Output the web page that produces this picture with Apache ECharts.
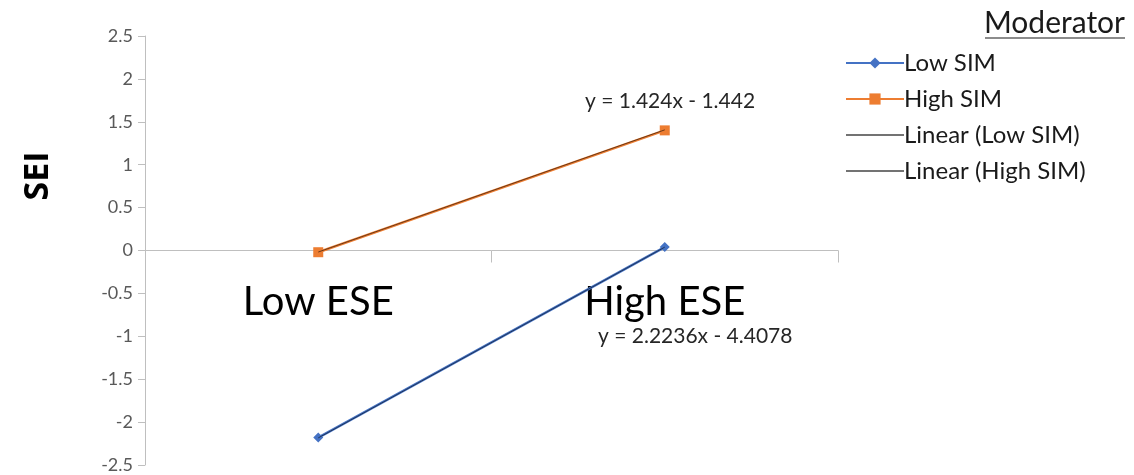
<!DOCTYPE html>
<html>
<head>
<meta charset="utf-8">
<script src="https://cdn.jsdelivr.net/npm/echarts@6/dist/echarts.min.js"></script>
<style>
  html, body { margin: 0; padding: 0; background: #ffffff; }
  #chart { width: 1134px; height: 475px; }
</style>
</head>
<body>
<div id="chart"></div>
<script>
// Categories on the x axis
const categories = ['Low ESE', 'High ESE'];
// Observed cell means for each moderator level
const lowSim = [-2.18, 0.04];
const highSim = [-0.02, 1.40];
// Fitted linear trend values at each category
const trendLowSim = [-2.184, 0.039];
const trendHighSim = [-0.018, 1.406];
// Trend equations shown next to the lines
const eqLowSim = 'y = 2.2236x - 4.4078';
const eqHighSim = 'y = 1.424x - 1.442';
// Y axis range
const yMin = -2.5, yMax = 2.5, yStep = 0.5;

const FONT = 'Lato, "Open Sans", sans-serif';
const GRID_TOP = 36, GRID_BOTTOM = 10, H = 475;
// the category axis sits on y = 0: shift it up from the bottom of the grid
const plotH = H - GRID_TOP - GRID_BOTTOM;
const zeroShift = -plotH * (0 - yMin) / (yMax - yMin);

const chart = echarts.init(document.getElementById('chart'));

chart.setOption({
  animation: false,
  backgroundColor: '#ffffff',
  grid: { left: 145, right: 296, top: GRID_TOP, bottom: GRID_BOTTOM, containLabel: false, outerBoundsMode: 'none' },
  legend: {
    orient: 'vertical',
    left: 840,
    top: 46,
    itemWidth: 58,
    itemHeight: 14,
    itemGap: 12,
    textStyle: { fontFamily: FONT, fontSize: 24, color: '#1a1a1a', padding: [0, 0, 0, -5] },
    data: ['Low SIM', 'High SIM', 'Linear (Low SIM)', 'Linear (High SIM)']
  },
  xAxis: {
    type: 'category',
    data: categories,
    boundaryGap: true,
    offset: zeroShift,
    axisLine: { onZero: false, lineStyle: { color: '#bfbfbf', width: 1 } },
    axisTick: { show: true, length: 12, alignWithLabel: false, lineStyle: { color: '#bfbfbf' } },
    axisLabel: { margin: 32, fontFamily: FONT, fontSize: 40, color: '#000000' },
    splitLine: { show: false }
  },
  yAxis: {
    type: 'value',
    min: yMin,
    max: yMax,
    interval: yStep,
    axisLine: { show: true, lineStyle: { color: '#bfbfbf', width: 1 } },
    axisTick: { show: true, length: 7, lineStyle: { color: '#bfbfbf' } },
    axisLabel: { margin: 12, fontFamily: FONT, fontSize: 18, color: '#595959' },
    splitLine: { show: false }
  },
  series: [
    {
      name: 'Low SIM',
      type: 'line',
      data: lowSim,
      symbol: 'diamond',
      symbolSize: 10,
      itemStyle: { color: '#4472C4' },
      lineStyle: { color: '#4472C4', width: 2.5 },
      z: 2
    },
    {
      name: 'High SIM',
      type: 'line',
      data: highSim,
      symbol: 'rect',
      symbolSize: 10,
      itemStyle: { color: '#ED7D31' },
      lineStyle: { color: '#ED7D31', width: 2.5 },
      z: 2
    },
    {
      name: 'Linear (Low SIM)',
      type: 'line',
      data: trendLowSim,
      symbol: 'none',
      itemStyle: { color: '#000000', opacity: 0 },
      lineStyle: { color: '#000000', width: 1, opacity: 0.55 },
      z: 3
    },
    {
      name: 'Linear (High SIM)',
      type: 'line',
      data: trendHighSim,
      symbol: 'none',
      itemStyle: { color: '#000000', opacity: 0 },
      lineStyle: { color: '#000000', width: 1, opacity: 0.55 },
      z: 3
    }
  ],
  graphic: [
    {
      type: 'text',
      x: 38, y: 176,
      rotation: Math.PI / 2,
      style: { text: 'SEI', fontFamily: '"Open Sans", sans-serif', fontSize: 34, fontWeight: 'bold', fill: '#000000', align: 'center', verticalAlign: 'middle' }
    },
    {
      type: 'text',
      x: 1125, y: 23,
      style: { text: 'Moderator', fontFamily: FONT, fontSize: 30, fill: '#1a1a1a', align: 'right', verticalAlign: 'middle' }
    },
    {
      type: 'line',
      shape: { x1: 985, y1: 38, x2: 1125, y2: 38 },
      style: { stroke: '#1a1a1a', lineWidth: 1.2 }
    },
    {
      type: 'text',
      x: 585, y: 101,
      style: { text: eqHighSim, fontFamily: FONT, fontSize: 21, fill: '#262626', verticalAlign: 'middle' }
    },
    {
      type: 'text',
      x: 598, y: 336,
      style: { text: eqLowSim, fontFamily: FONT, fontSize: 21, fill: '#262626', verticalAlign: 'middle' }
    }
  ]
});
</script>
</body>
</html>
